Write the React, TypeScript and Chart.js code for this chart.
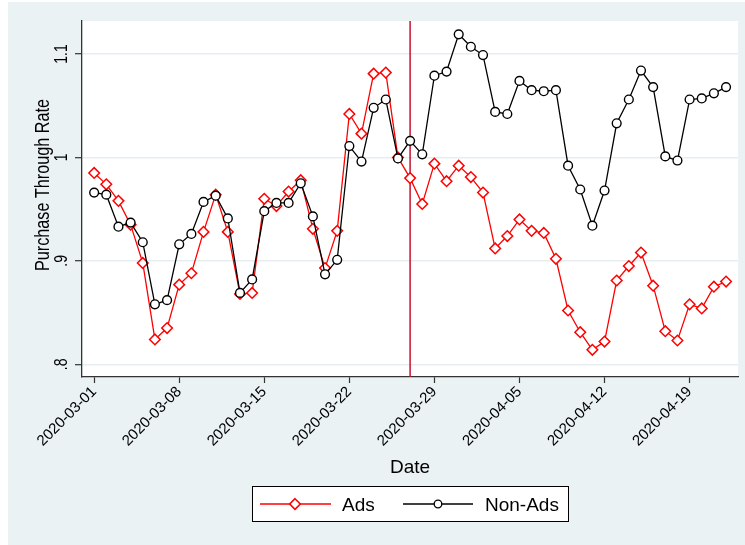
import React, { useEffect, useRef } from 'react';
import { Chart, registerables } from 'chart.js';

Chart.register(...registerables);

const dates = [
  '2020-03-01', '2020-03-02', '2020-03-03', '2020-03-04', '2020-03-05', '2020-03-06', '2020-03-07',
  '2020-03-08', '2020-03-09', '2020-03-10', '2020-03-11', '2020-03-12', '2020-03-13', '2020-03-14',
  '2020-03-15', '2020-03-16', '2020-03-17', '2020-03-18', '2020-03-19', '2020-03-20', '2020-03-21',
  '2020-03-22', '2020-03-23', '2020-03-24', '2020-03-25', '2020-03-26', '2020-03-27', '2020-03-28',
  '2020-03-29', '2020-03-30', '2020-03-31', '2020-04-01', '2020-04-02', '2020-04-03', '2020-04-04',
  '2020-04-05', '2020-04-06', '2020-04-07', '2020-04-08', '2020-04-09', '2020-04-10', '2020-04-11',
  '2020-04-12', '2020-04-13', '2020-04-14', '2020-04-15', '2020-04-16', '2020-04-17', '2020-04-18',
  '2020-04-19', '2020-04-20', '2020-04-21', '2020-04-22',
];

const adsValues = [
  0.985, 0.974, 0.958, 0.935, 0.898, 0.824, 0.835,
  0.877, 0.888, 0.928, 0.964, 0.928, 0.868, 0.869,
  0.960, 0.953, 0.967, 0.978, 0.931, 0.893, 0.929,
  1.042, 1.023, 1.081, 1.082, 1.000, 0.980, 0.955,
  0.994, 0.977, 0.992, 0.981, 0.966, 0.912, 0.924,
  0.940, 0.929, 0.927, 0.902, 0.852, 0.831, 0.814,
  0.822, 0.881, 0.895, 0.908, 0.876, 0.832, 0.823,
  0.858, 0.854, 0.875, 0.880,
];

const nonAdsValues = [
  0.966, 0.964, 0.933, 0.937, 0.918, 0.858, 0.862,
  0.916, 0.926, 0.957, 0.963, 0.941, 0.869, 0.882,
  0.948, 0.956, 0.956, 0.975, 0.943, 0.887, 0.901,
  1.011, 0.996, 1.048, 1.056, 0.999, 1.016, 1.003,
  1.079, 1.083, 1.119, 1.107, 1.099, 1.044, 1.042,
  1.074, 1.065, 1.064, 1.065, 0.992, 0.969, 0.934,
  0.968, 1.033, 1.056, 1.084, 1.068, 1.001, 0.997,
  1.056, 1.057, 1.062, 1.068,
];

const xTickLabels = [
  '2020-03-01', '2020-03-08', '2020-03-15', '2020-03-22',
  '2020-03-29', '2020-04-05', '2020-04-12', '2020-04-19',
];
const yTickValues = [0.8, 0.9, 1.0, 1.1];
const yTickLabels = ['.8', '.9', '1', '1.1'];
const eventDate = '2020-03-27';
const seriesNames = ['Ads', 'Non-Ads'];
const yTitle = 'Purchase Through Rate';
const xTitle = 'Date';

const FONT = "'Liberation Sans', Arial, sans-serif";
const BG = '#eaf2f3';
const AXIS = '#333333';
const RED = '#ff0000';
const BLACK = '#000000';
const EVENT = '#c4122f';

const overlayPlugin = {
  id: 'overlay',
  beforeDraw(chart: any) {
    const { ctx, chartArea } = chart;
    ctx.save();
    ctx.fillStyle = BG;
    ctx.fillRect(0, 0, chart.width, chart.height);
    ctx.fillStyle = '#ffffff';
    ctx.fillRect(chartArea.left, chartArea.top, chartArea.right - chartArea.left, chartArea.bottom - chartArea.top);
    ctx.restore();
  },
  beforeDatasetsDraw(chart: any) {
    const { ctx, chartArea } = chart;
    const xs = chart.scales.x;
    const idx = dates.indexOf(eventDate);
    const px = xs.getPixelForValue(idx);
    ctx.save();
    ctx.strokeStyle = EVENT;
    ctx.lineWidth = 1.5;
    ctx.beginPath();
    ctx.moveTo(px, chartArea.top);
    ctx.lineTo(px, chartArea.bottom);
    ctx.stroke();
    ctx.restore();
  },
  afterDraw(chart: any) {
    const { ctx, chartArea } = chart;
    const ys = chart.scales.y;
    ctx.save();
    ctx.fillStyle = '#000';
    // y tick labels (rotated)
    ctx.font = `18px ${FONT}`;
    ctx.textAlign = 'center';
    ctx.textBaseline = 'middle';
    yTickValues.forEach((v, i) => {
      const py = ys.getPixelForValue(v);
      ctx.save();
      ctx.translate(54, py);
      ctx.rotate(-Math.PI / 2);
      ctx.scale(0.78, 1);
      ctx.fillText(yTickLabels[i], 0, 0);
      ctx.restore();
    });
    // y title
    ctx.save();
    ctx.font = `20px ${FONT}`;
    ctx.translate(35, 183);
    ctx.rotate(-Math.PI / 2);
    ctx.scale(0.81, 1);
    ctx.fillText(yTitle, 0, 0);
    ctx.restore();
    // x title
    const cx = (chartArea.left + chartArea.right) / 2;
    ctx.font = `19px ${FONT}`;
    ctx.textAlign = 'center';
    ctx.textBaseline = 'alphabetic';
    ctx.fillText(xTitle, cx, 470.5);
    // legend
    const bx = 244.5, by = 484.5, bw = 316, bh = 35;
    ctx.fillStyle = '#ffffff';
    ctx.fillRect(bx, by, bw, bh);
    ctx.strokeStyle = '#000';
    ctx.lineWidth = 1;
    ctx.strokeRect(bx, by, bw, bh);
    const ly = 502;
    // Ads
    ctx.strokeStyle = RED;
    ctx.lineWidth = 1.3;
    ctx.beginPath();
    ctx.moveTo(252, ly);
    ctx.lineTo(323, ly);
    ctx.stroke();
    ctx.fillStyle = '#fff';
    ctx.beginPath();
    ctx.moveTo(287, ly - 5.3);
    ctx.lineTo(292.3, ly);
    ctx.lineTo(287, ly + 5.3);
    ctx.lineTo(281.7, ly);
    ctx.closePath();
    ctx.fill();
    ctx.lineWidth = 1.6;
    ctx.stroke();
    // Non-Ads
    ctx.strokeStyle = BLACK;
    ctx.lineWidth = 1.3;
    ctx.beginPath();
    ctx.moveTo(395, ly);
    ctx.lineTo(465, ly);
    ctx.stroke();
    ctx.beginPath();
    ctx.arc(430, ly, 3.8, 0, Math.PI * 2);
    ctx.fill();
    ctx.stroke();
    ctx.fillStyle = '#000';
    ctx.font = `19px ${FONT}`;
    ctx.textAlign = 'left';
    ctx.fillText(seriesNames[0], 334, 508.7);
    ctx.fillText(seriesNames[1], 477, 508.7);
    ctx.restore();
  },
};

export default function App() {
  const ref = useRef<HTMLCanvasElement | null>(null);

  useEffect(() => {
    if (!ref.current) return;
    Chart.defaults.font.family = FONT;
    const tickIdx = xTickLabels.map((d) => dates.indexOf(d));
    const chart = new Chart(ref.current, {
      type: 'line',
      data: {
        datasets: [
          {
            label: seriesNames[0],
            data: adsValues.map((v, i) => ({ x: i, y: v })),
            borderColor: RED,
            borderWidth: 1.3,
            pointStyle: 'rectRot',
            pointRadius: 5.3,
            pointBorderWidth: 1.5,
            pointBorderColor: RED,
            pointBackgroundColor: '#ffffff',
            tension: 0,
            order: 2,
          },
          {
            label: seriesNames[1],
            data: nonAdsValues.map((v, i) => ({ x: i, y: v })),
            borderColor: BLACK,
            borderWidth: 1.3,
            pointStyle: 'circle',
            pointRadius: 4.4,
            pointBorderWidth: 1.4,
            pointBorderColor: BLACK,
            pointBackgroundColor: '#ffffff',
            tension: 0,
            order: 1,
          },
        ],
      },
      options: {
        animation: false,
        responsive: false,
        maintainAspectRatio: false,
        layout: { padding: { left: 0, top: 19, right: 6, bottom: 0 } },
        plugins: {
          legend: { display: false },
          tooltip: { enabled: false },
        },
        scales: {
          x: {
            type: 'linear',
            min: -1,
            max: 53,
            afterBuildTicks: (scale: any) => {
              scale.ticks = tickIdx.map((v) => ({ value: v }));
            },
            afterFit: (scale: any) => {
              scale.height = 168;
            },
            ticks: {
              autoSkip: false,
              minRotation: 45,
              maxRotation: 45,
              padding: 0,
              color: '#000',
              font: { size: 15, family: FONT },
              callback: (v: any) => dates[Math.round(Number(v))],
            },
            grid: {
              drawOnChartArea: false,
              drawTicks: true,
              tickLength: 6,
              tickColor: AXIS,
              tickWidth: 1.2,
            },
            border: { display: true, color: AXIS, width: 1.3 },
          },
          y: {
            type: 'linear',
            min: 0.7877,
            max: 1.1319,
            afterBuildTicks: (scale: any) => {
              scale.ticks = yTickValues.map((v) => ({ value: v }));
            },
            afterFit: (scale: any) => {
              scale.width = 74;
            },
            ticks: { display: false },
            grid: {
              color: '#e6eef1',
              lineWidth: 1.4,
              drawTicks: true,
              tickLength: 7,
              tickColor: AXIS,
              tickWidth: 1.2,
            },
            border: { display: true, color: AXIS, width: 1.3 },
          },
        },
      },
      plugins: [overlayPlugin],
    } as any);
    return () => chart.destroy();
  }, []);

  return (
    <div style={{ position: 'fixed', left: 8, top: 2, width: 737, height: 543, background: BG }}>
      <canvas ref={ref} width={737} height={543} style={{ display: 'block', width: 737, height: 543 }} />
    </div>
  );
}
